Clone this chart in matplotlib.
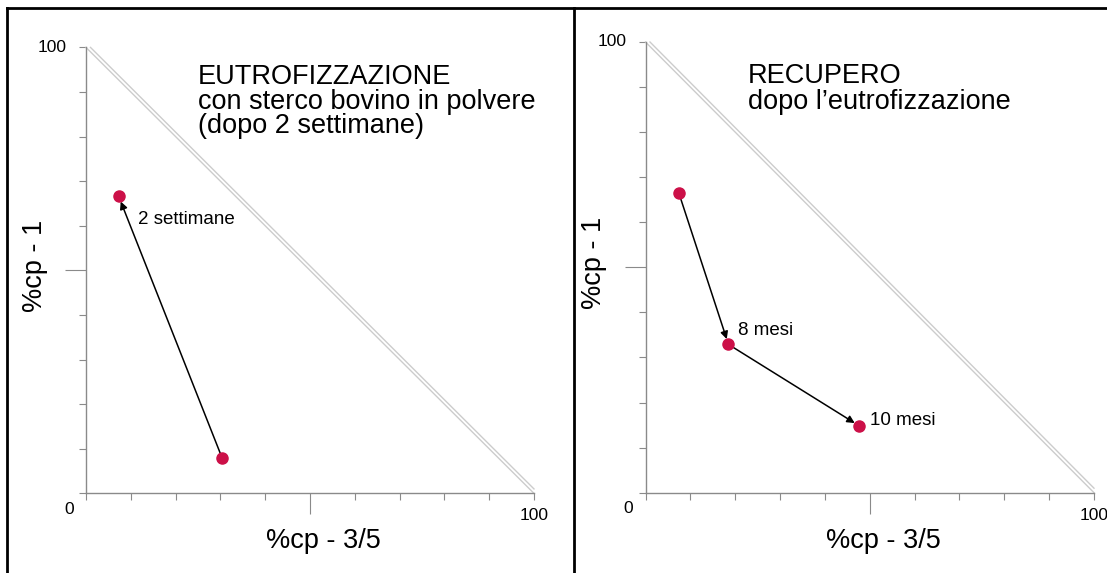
import matplotlib.pyplot as plt
from matplotlib.lines import Line2D

plt.rcParams['font.family'] = ['Liberation Sans', 'DejaVu Sans']

# Eutrofizzazione: partenza e punto dopo 2 settimane
eut_x = [30.4, 7.3]
eut_y = [7.9, 66.6]
eut_labels = ["", "2 settimane"]

# Recupero: punto iniziale, 8 mesi, 10 mesi
rec_x = [7.4, 18.5, 47.7]
rec_y = [66.6, 32.9, 14.8]
rec_labels = ["", "8 mesi", "10 mesi"]

W, H = 1107, 573
fig = plt.figure(figsize=(W / 100, H / 100), dpi=100)

# cornice nera dei pannelli
frame = dict(color='black', linewidth=2, transform=fig.transFigure, clip_on=False)
fig.add_artist(Line2D([7 / W, 1], [1 - 8 / H, 1 - 8 / H], **frame))
fig.add_artist(Line2D([7 / W, 7 / W], [0, 1 - 8 / H], **frame))
fig.add_artist(Line2D([574 / W, 574 / W], [0, 1 - 8 / H], **frame))


def pannello(rect, xs, ys, labels, title_lines, title_x, title_y, label_off):
    ax = fig.add_axes(rect)
    ax.set_xlim(0, 100)
    ax.set_ylim(0, 100)
    for s in ['top', 'right']:
        ax.spines[s].set_visible(False)
    for s in ['left', 'bottom']:
        ax.spines[s].set_color('#8a8a8a')
        ax.spines[s].set_linewidth(1.0)
    ax.set_xticks(range(0, 101, 10))
    ax.set_yticks(range(0, 101, 10))
    ax.set_xticklabels([])
    ax.set_yticklabels([])
    ax.tick_params(length=5, width=0.8, color='#8a8a8a', direction='out')
    ax.xaxis.get_major_ticks()[5].tick1line.set_markersize(15)
    ax.yaxis.get_major_ticks()[5].tick1line.set_markersize(15)

    # diagonale a doppia linea
    ax.plot([0, 100], [100, 0], color='#cccccc', linewidth=1.0, clip_on=False)
    ax.plot([1.0, 100], [100, 1.0], color='#cccccc', linewidth=1.0, clip_on=False)

    ax.text(-3.8, -3.6, "0", ha='center', va='center', fontsize=12.5)
    ax.text(-4.3, 100, "100", ha='right', va='center', fontsize=12.5)
    ax.text(100, -5, "100", ha='center', va='center', fontsize=12.5)
    ax.text(53, -12.2, "%cp - 3/5", ha='center', va='baseline', fontsize=19.5)
    ax.text(-11.4, 51, "%cp - 1", ha='center', va='center', rotation=90,
            fontsize=19.5)

    for line, y in zip(title_lines, title_y):
        ax.text(title_x, y, line, ha='left', va='baseline', fontsize=19.5)

    for i in range(len(xs) - 1):
        ax.annotate("", xy=(xs[i + 1], ys[i + 1]), xytext=(xs[i], ys[i]),
                    arrowprops=dict(arrowstyle='-|>', color='black', lw=1.1,
                                    mutation_scale=11, shrinkA=2, shrinkB=4))
    ax.plot(xs, ys, linestyle='none', marker='o', markersize=8,
            color='#cc1048', zorder=5, clip_on=False)
    for x, y, lab in zip(xs, ys, labels):
        if lab:
            dx, dy = label_off[lab]
            ax.text(x + dx, y + dy, lab, ha='left', va='baseline', fontsize=13.5)
    return ax


pannello([86 / W, 1 - 493.4 / H, 448 / W, 446 / H], eut_x, eut_y, eut_labels,
         ["EUTROFIZZAZIONE", "con sterco bovino in polvere", "(dopo 2 settimane)"],
         24.9, [91.8, 86.3, 80.7],
         {"2 settimane": (4.2, -6.1)})
pannello([645.5 / W, 1 - 492.7 / H, 448.5 / W, 450.7 / H], rec_x, rec_y, rec_labels,
         ["RECUPERO", "dopo l\u2019eutrofizzazione"],
         22.9, [91.0, 85.2],
         {"8 mesi": (2.1, 2.1), "10 mesi": (2.4, 0.2)})

fig.savefig("out.png", dpi=100)
